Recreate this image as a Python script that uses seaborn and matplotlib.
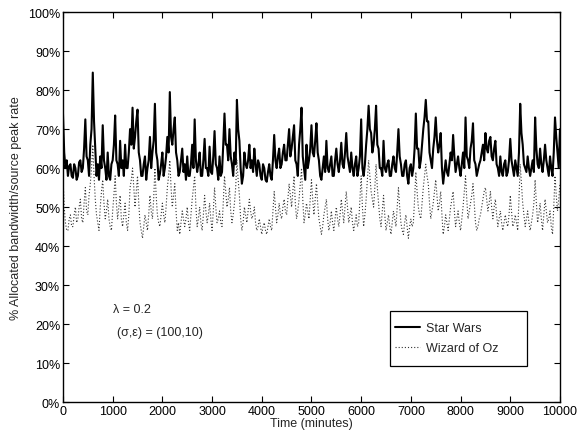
import numpy as np
import pandas as pd
import matplotlib
matplotlib.use("Agg")
import matplotlib.pyplot as plt
from matplotlib.patches import Rectangle
import seaborn as sns

# time axis (minutes), one reading every 25 minutes
time_min = list(range(0, 10001, 25))

star_wars = [
    74, 64, 60, 62, 58, 60.5, 61, 58, 57.5, 61, 60, 57, 58, 61.5, 62, 59, 60, 65, 72.5, 63,
    62, 58, 66, 70, 84.5, 72, 65, 58, 61, 57, 63, 60, 71, 62, 60, 57, 64, 58, 57, 61,
    62, 66, 73.5, 62, 61, 58, 67, 60, 62, 58, 66, 60, 60, 64, 70, 66, 75.5, 65, 68, 72,
    75, 64, 62, 58, 58, 61, 63, 57, 60, 62, 68, 60, 64, 67, 76.5, 64, 62, 57, 58.5, 61,
    64, 58, 60, 63, 68, 64, 79.5, 68, 66, 70, 73, 64, 62, 58, 59, 62, 65, 59, 61, 57,
    63, 58, 58, 61, 66, 60, 72.5, 62, 59, 61, 64, 58, 58, 62, 67.5, 60, 60, 58, 65.5, 59,
    58.5, 63, 69.5, 61, 60, 57, 63, 58, 59, 66, 74, 66, 66, 62, 70, 63, 61, 58, 64, 61,
    77.5, 70, 67, 60, 56, 58, 64, 61, 60, 62, 66, 60, 62, 59, 65, 61, 58, 62, 61, 58,
    57, 61, 60, 57, 56.5, 59, 61, 58, 57, 62, 68.5, 62, 60, 63, 65, 60, 61, 64, 66, 62,
    62, 66, 70, 63, 65, 68, 71, 62, 61, 58, 66, 70, 75.5, 63, 60, 57, 66, 60, 62, 65,
    71, 64, 63, 67, 71.5, 64, 62, 58, 57, 60, 63, 59, 67, 60, 59, 61, 63, 58, 58, 62,
    65, 61, 59, 62, 66.5, 61, 60, 64, 69, 63, 61, 59, 64, 60, 58, 61, 63, 58, 60, 63,
    72.5, 60, 58, 61, 66, 70, 76, 70, 69, 64, 66, 70, 76, 66, 65, 60, 60, 58, 67, 60,
    59, 61, 62, 58, 58, 61, 63, 60, 59, 64, 70, 63, 61, 58, 58, 61, 62, 58, 56, 60,
    61, 58, 60, 65, 74, 65, 65, 60, 62, 66, 70, 73, 77.5, 72, 72, 64, 62, 60, 65, 68,
    73, 67, 64, 66, 69, 60, 56, 59, 62, 59, 58, 61, 64, 62, 68.5, 63, 59, 61, 63, 60,
    58, 61, 64, 60, 73, 63, 62, 60, 65, 67, 71.5, 62, 61, 58, 59.5, 61, 62, 64, 66, 62,
    69, 65, 64, 67, 68, 63, 62, 65, 67, 61, 60, 58, 63, 59, 58, 61, 62, 58, 59, 62,
    67.5, 62, 60, 58, 62, 60, 58, 64, 76.5, 69, 66, 61, 60, 59, 63, 60, 58, 60, 62, 59,
    73, 65, 61, 60, 65, 61, 59, 62, 66, 62, 60, 58, 63, 60, 58, 64, 73, 68, 64, 60,
    70,
]

wizard_of_oz = [
    58, 50, 46, 44, 44, 47, 48, 45, 45, 48, 50, 46, 47, 50, 52, 47, 46, 51, 55, 49,
    48, 53, 56, 60, 66, 58, 52, 48, 46, 44, 50, 54, 57, 51, 47, 49, 52, 47, 45, 44,
    49, 53, 58, 51, 47, 50, 53, 47, 45, 48, 51, 46, 44, 48, 55, 57, 60, 55, 50, 54,
    58, 51, 46, 44, 42, 45, 48, 46, 44, 48, 53, 49, 47, 52, 60, 53, 48, 46, 45, 48,
    51, 48, 46, 50, 55, 58, 62, 55, 50, 53, 56, 49, 44, 46, 43, 46, 49, 47, 45, 47,
    50, 46, 44, 48, 52, 55, 58, 50, 45, 47, 50, 46, 44, 48, 53, 49, 46, 48, 51, 47,
    44, 49, 55, 50, 46, 47, 49, 46, 45, 51, 58, 54, 50, 52, 55, 49, 46, 48, 51, 55,
    62, 57, 53, 47, 44, 46, 50, 48, 46, 49, 52, 49, 47, 48, 50, 46, 44, 45, 47, 45,
    43, 45, 46, 44, 43, 45, 47, 45, 44, 49, 54, 50, 46, 48, 51, 48, 47, 50, 52, 49,
    48, 52, 56, 53, 50, 54, 58, 51, 47, 49, 52, 56, 60, 52, 46, 48, 51, 49, 47, 52,
    57, 52, 48, 52, 56, 51, 47, 45, 43, 45, 48, 50, 52, 47, 44, 46, 49, 46, 44, 47,
    50, 47, 45, 48, 52, 49, 46, 50, 54, 50, 46, 48, 50, 46, 44, 46, 48, 45, 46, 52,
    58, 50, 45, 48, 52, 57, 62, 58, 54, 52, 50, 55, 61, 55, 51, 47, 45, 49, 53, 48,
    44, 46, 48, 45, 43, 46, 49, 47, 45, 50, 55, 50, 46, 44, 43, 46, 48, 45, 42, 45,
    47, 45, 46, 52, 59, 54, 50, 48, 47, 51, 55, 58, 61, 58, 56, 51, 47, 49, 51, 54,
    57, 53, 49, 51, 54, 48, 43, 45, 48, 46, 44, 47, 50, 52, 54, 49, 45, 47, 49, 46,
    44, 47, 50, 54, 58, 52, 47, 49, 51, 53, 56, 51, 46, 44, 45, 47, 48, 50, 52, 54,
    55, 52, 49, 51, 54, 50, 47, 50, 52, 48, 45, 47, 49, 46, 44, 46, 48, 46, 45, 48,
    53, 49, 45, 46, 48, 46, 44, 52, 61, 56, 51, 48, 45, 47, 49, 46, 44, 46, 48, 51,
    57, 51, 46, 48, 51, 47, 44, 48, 52, 49, 46, 47, 49, 45, 43, 50, 58, 53, 49, 52,
    56,
]

series_names = ["Star Wars", "Wizard of Oz"]
y_ticks = list(range(0, 101, 10))
x_ticks = list(range(0, 10001, 1000))

sns.set_style("ticks")
plt.rcParams["font.family"] = ["Liberation Sans", "DejaVu Sans"]
plt.rcParams["font.size"] = 9

fig = plt.figure(figsize=(5.83, 4.39), dpi=100)
ax = fig.add_axes([0.108, 0.082, 0.8525, 0.888])

sns.lineplot(x=time_min, y=star_wars, ax=ax, color="black", linewidth=1.5,
             label=series_names[0])
sns.lineplot(x=time_min, y=wizard_of_oz, ax=ax, color="#333333", linewidth=0.8,
             linestyle=(0, (1, 1.8)), label=series_names[1])

ax.set_xlim(0, 10000)
ax.set_ylim(0, 100)
ax.set_xticks(x_ticks)
ax.set_xticklabels([str(v) for v in x_ticks])
ax.set_yticks(y_ticks)
ax.set_yticklabels([f"{v}%" for v in y_ticks])
ax.tick_params(direction="in", length=4, width=0.8, top=True, right=True,
               labelsize=9, pad=2, colors="black")
for s in ax.spines.values():
    s.set_linewidth(1.0)
    s.set_color("black")
    s.set_visible(True)

ax.set_xlabel("Time (minutes)", fontsize=9, labelpad=0)
ax.set_ylabel("% Allocated bandwidth/source peak rate", fontsize=9, labelpad=4)

ax.text(1000, 23.8, "λ = 0.2", fontsize=9, va="center", ha="left")
ax.text(1080, 18, "(σ,ε) = (100,10)", fontsize=9, va="center", ha="left")

# legend entries without their own frame, plus a box matching the original
leg = ax.legend(loc="upper left", bbox_to_anchor=(0.66, 0.215), borderaxespad=0,
                fontsize=9, frameon=False, handlelength=2.0, handletextpad=0.5,
                borderpad=0.3, labelspacing=0.65)
ax.add_patch(Rectangle((0.658, 0.092), 0.2757, 0.141, transform=ax.transAxes,
                       facecolor="none", edgecolor="black", linewidth=0.9,
                       zorder=5))

fig.savefig("out.png", dpi=100)
